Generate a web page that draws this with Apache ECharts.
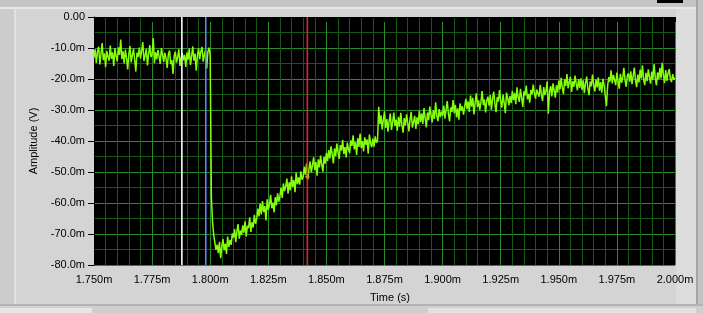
<!DOCTYPE html>
<html>
<head>
<meta charset="utf-8">
<script src="https://cdn.jsdelivr.net/npm/echarts@6/dist/echarts.min.js"></script>
<style>
html,body{margin:0;padding:0;background:#d4d4d4;}
#chart{width:703px;height:313px;}
</style>
</head>
<body>
<div id="chart"></div>
<script>
// waveform timing (ms): t0 and sample spacing
const t0 = 1.75;
const dt = 0.0005;

// amplitude samples (mV), one row = 20 samples = 0.01 ms
const amplitude = [
-13.1,-10.4,-14.8,-11.2,-9.6,-15.3,-12.0,-8.4,-13.9,-11.7,-16.2,-10.9,-12.8,-14.1,-9.2,-13.5,-11.4,-15.8,-10.1,-12.6,
-14.3,-9.8,-12.2,-7.3,-13.6,-11.1,-15.0,-10.5,-13.2,-16.9,-11.8,-9.4,-14.6,-12.4,-10.2,-13.8,-17.6,-11.5,-12.9,-9.9,
-13.4,-11.0,-8.1,-14.2,-12.5,-10.3,-15.6,-11.9,-9.1,-13.0,-12.1,-6.8,-14.9,-11.3,-13.7,-10.6,-12.7,-15.1,-10.0,-12.3,
-14.5,-11.6,-13.3,-16.4,-12.0,-10.8,-15.2,-13.9,-18.4,-12.6,-11.2,-14.7,-12.9,-10.4,-15.8,-13.1,-11.7,-14.0,-12.2,-16.1,
-11.4,-13.8,-10.2,-15.5,-12.7,-9.5,-14.1,-11.8,-17.3,-12.3,-10.1,-13.6,-11.0,-9.7,-14.4,-12.1,-10.6,-16.6,-11.3,-9.9,
-12.4,-58.2,-66.0,-70.3,-72.8,-75.1,-73.4,-76.2,-72.5,-77.8,-74.0,-71.6,-75.3,-73.1,-76.4,-70.8,-74.2,-71.9,-73.5,-69.8,
-71.2,-68.4,-72.6,-69.1,-66.8,-71.5,-68.9,-70.3,-67.2,-69.6,-65.9,-70.8,-67.4,-68.1,-64.6,-69.3,-66.2,-67.9,-63.8,-66.7,
-65.1,-61.8,-64.3,-60.2,-63.7,-59.4,-62.9,-61.0,-65.6,-58.8,-62.2,-60.5,-57.4,-61.7,-59.9,-63.0,-58.1,-60.8,-56.9,-59.6,
-57.8,-55.0,-58.4,-53.7,-56.2,-54.6,-52.1,-57.0,-53.3,-55.9,-51.4,-54.8,-52.6,-56.5,-50.2,-53.9,-51.7,-54.1,-49.8,-52.5,
-51.6,-48.3,-50.9,-47.2,-52.4,-49.0,-46.6,-50.1,-47.9,-45.3,-49.4,-46.8,-51.2,-45.9,-48.5,-44.7,-47.6,-49.9,-45.1,-47.3,
-43.8,-46.5,-42.9,-45.6,-41.7,-44.3,-47.2,-42.4,-44.9,-40.8,-43.6,-45.8,-41.3,-43.1,-39.6,-44.2,-42.0,-45.3,-40.5,-42.7,
-43.9,-39.8,-41.6,-38.2,-42.7,-40.4,-44.5,-39.1,-41.9,-37.6,-42.3,-40.0,-43.4,-38.8,-41.2,-39.5,-44.1,-37.9,-40.7,-42.0,
-39.2,-41.8,-38.5,-40.6,-39.9,-29.0,-34.6,-31.7,-36.3,-33.2,-30.4,-35.8,-32.9,-37.0,-33.6,-31.1,-36.4,-34.0,-30.8,-35.2,
-33.1,-36.7,-32.2,-35.4,-30.9,-34.8,-37.3,-32.6,-35.0,-31.4,-34.2,-36.9,-33.0,-30.6,-35.7,-33.8,-31.9,-36.1,-32.4,-34.6,
-30.2,-33.9,-31.1,-34.5,-29.4,-32.7,-35.6,-30.8,-33.3,-28.9,-31.6,-34.0,-30.1,-32.9,-27.5,-31.8,-33.6,-29.7,-32.3,-30.5,
-31.9,-28.6,-32.8,-29.9,-27.1,-31.3,-33.7,-29.2,-30.6,-26.8,-31.0,-28.3,-32.4,-29.5,-33.1,-27.9,-30.2,-28.8,-31.5,-29.0,
-26.4,-29.7,-27.2,-30.6,-25.3,-28.9,-26.1,-31.4,-27.8,-24.6,-29.1,-26.9,-30.0,-27.5,-23.9,-28.4,-26.6,-30.8,-27.0,-25.7,
-28.6,-25.2,-29.9,-26.4,-24.1,-28.0,-30.7,-25.8,-27.3,-23.6,-26.9,-29.2,-25.0,-27.7,-31.0,-24.4,-26.2,-28.5,-25.5,-27.8,
-23.9,-26.8,-24.5,-28.1,-22.7,-25.9,-27.4,-23.2,-26.1,-29.0,-24.0,-25.3,-22.1,-26.6,-24.8,-27.6,-23.5,-25.0,-21.8,-24.6,
-26.3,-23.4,-23.0,-25.7,-21.9,-24.9,-27.1,-22.6,-25.2,-23.7,-20.8,-31.2,-24.1,-22.3,-25.6,-21.4,-23.8,-26.0,-22.0,-24.4,
-20.5,-23.4,-19.6,-22.8,-24.9,-20.1,-22.2,-18.4,-23.0,-21.1,-19.3,-24.2,-20.7,-22.5,-18.9,-21.6,-23.7,-20.0,-22.9,-19.8,
-23.5,-20.4,-24.6,-21.3,-19.2,-23.1,-25.2,-20.8,-22.4,-18.6,-21.9,-24.0,-20.2,-22.7,-19.5,-23.8,-21.0,-24.4,-19.9,-22.1,
-21.6,-28.8,-22.3,-19.4,-20.9,-17.2,-21.4,-18.7,-19.0,-22.0,-17.9,-20.6,-23.1,-18.3,-21.2,-19.6,-16.4,-20.3,-22.5,-18.9,
-18.2,-20.9,-17.5,-21.7,-19.0,-16.3,-20.4,-22.6,-18.6,-21.1,-17.0,-19.8,-15.6,-20.2,-22.0,-18.0,-20.7,-16.9,-19.3,-21.5,
-17.6,-20.3,-15.2,-19.5,-22.1,-17.9,-20.0,-16.4,-19.8,-14.8,-18.7,-21.3,-17.1,-20.6,-18.2,-16.8,-19.9,-21.0,-18.4,-20.2,
-19.6
];

// cursor positions (ms) and colours
const cursorTimes = [1.7878, 1.7981, 1.8418];
const cursorColors = ['#f0ffff', '#5a88ea', '#dc2626'];
// cursor marker on trace
const cursorPoint = [1.8418, -51.5];

// axis ranges and tick labels
const yRange = [-80, 0];
const xTickLabels = ['1.750m','1.775m','1.800m','1.825m','1.850m','1.875m','1.900m','1.925m','1.950m','1.975m','2.000m'];
const yTickLabels = ['-80.0m','-70.0m','-60.0m','-50.0m','-40.0m','-30.0m','-20.0m','-10.0m','0.00'];

const seriesData = amplitude.map((v, i) => [t0 + i * dt, v]);

const chart = echarts.init(document.getElementById('chart'), null, {renderer: 'canvas'});
const font = 'Liberation Sans';

const cursorSeries = cursorTimes.map((t, i) => ({
  type: 'line',
  data: [[t, yRange[0]], [t, yRange[1]]],
  showSymbol: false,
  symbol: 'none',
  silent: true,
  lineStyle: {color: cursorColors[i], width: 1.6},
  z: 4
}));

chart.setOption({
  animation: false,
  backgroundColor: '#d4d4d4',
  graphic: [
    {type: 'rect', shape: {x: 0, y: 0, width: 703, height: 7}, style: {fill: '#c5c5c5'}, z: -10},
    {type: 'rect', shape: {x: 0, y: 7, width: 703, height: 2}, style: {fill: '#e8e8e8'}, z: -10},
    {type: 'rect', shape: {x: 657, y: 0, width: 26, height: 3}, style: {fill: '#000'}, z: -9},
    {type: 'rect', shape: {x: 0, y: 9, width: 14, height: 296}, style: {fill: '#cccccc'}, z: -10},
    {type: 'rect', shape: {x: 14, y: 9, width: 2, height: 296}, style: {fill: '#e2e2e2'}, z: -10},
    {type: 'rect', shape: {x: 676, y: 9, width: 20, height: 296}, style: {fill: '#dcdcdc'}, z: -10},
    {type: 'rect', shape: {x: 696, y: 0, width: 2, height: 313}, style: {fill: '#a6a6a6'}, z: -10},
    {type: 'rect', shape: {x: 698, y: 0, width: 5, height: 313}, style: {fill: '#c4c4c4'}, z: -10},
    {type: 'rect', shape: {x: 0, y: 304, width: 703, height: 2}, style: {fill: '#b4b4b4'}, z: -10},
    {type: 'rect', shape: {x: 0, y: 306, width: 703, height: 7}, style: {fill: '#cfcfcf'}, z: -10},
    {type: 'rect', shape: {x: 0, y: 308, width: 92, height: 5}, style: {fill: '#e6e6e6'}, z: -9},
    {type: 'rect', shape: {x: 428, y: 308, width: 268, height: 5}, style: {fill: '#e2e2e2'}, z: -9}
  ],
  grid: {
    left: 94, top: 17, right: 28, bottom: 48,
    show: true, backgroundColor: '#000', borderColor: '#000', borderWidth: 0
  },
  xAxis: {
    type: 'value',
    min: 1.75, max: 2.0, interval: 0.025,
    name: 'Time (s)',
    nameLocation: 'middle',
    nameGap: 27,
    nameTextStyle: {color: '#000', fontSize: 11, fontFamily: font, padding: [0, 0, 0, 11]},
    axisLine: {show: true, lineStyle: {color: '#000'}},
    axisTick: {show: true, length: 5, lineStyle: {color: '#000'}},
    axisLabel: {
      color: '#000', fontSize: 11, fontFamily: font, margin: 9,
      formatter: v => xTickLabels[Math.round((v - 1.75) / 0.025)]
    },
    splitLine: {show: true, lineStyle: {color: '#2a8c2a', width: 1}},
    minorTick: {show: false, splitNumber: 5},
    minorSplitLine: {show: true, lineStyle: {color: '#165816', width: 1}}
  },
  yAxis: {
    type: 'value',
    min: yRange[0], max: yRange[1], interval: 10,
    name: 'Amplitude (V)',
    nameLocation: 'middle',
    nameGap: 49,
    nameTextStyle: {color: '#000', fontSize: 11, fontFamily: font},
    axisLine: {show: true, lineStyle: {color: '#000'}},
    axisTick: {show: true, length: 6, lineStyle: {color: '#000'}},
    axisLabel: {
      color: '#000', fontSize: 11, fontFamily: font, margin: 9,
      formatter: v => yTickLabels[Math.round((v + 80) / 10)]
    },
    splitLine: {show: true, lineStyle: {color: '#2a8c2a', width: 1}},
    minorTick: {show: false, splitNumber: 2},
    minorSplitLine: {show: true, lineStyle: {color: '#165816', width: 1}}
  },
  series: [
    ...cursorSeries,
    {
      type: 'line',
      data: seriesData,
      showSymbol: false,
      symbol: 'none',
      lineStyle: {color: '#84ff0a', width: 1.5},
      z: 3
    },
    {
      type: 'scatter',
      data: [cursorPoint],
      symbol: 'diamond',
      symbolSize: 5,
      itemStyle: {color: '#d8a020'},
      z: 5
    }
  ]
});
</script>
</body>
</html>
